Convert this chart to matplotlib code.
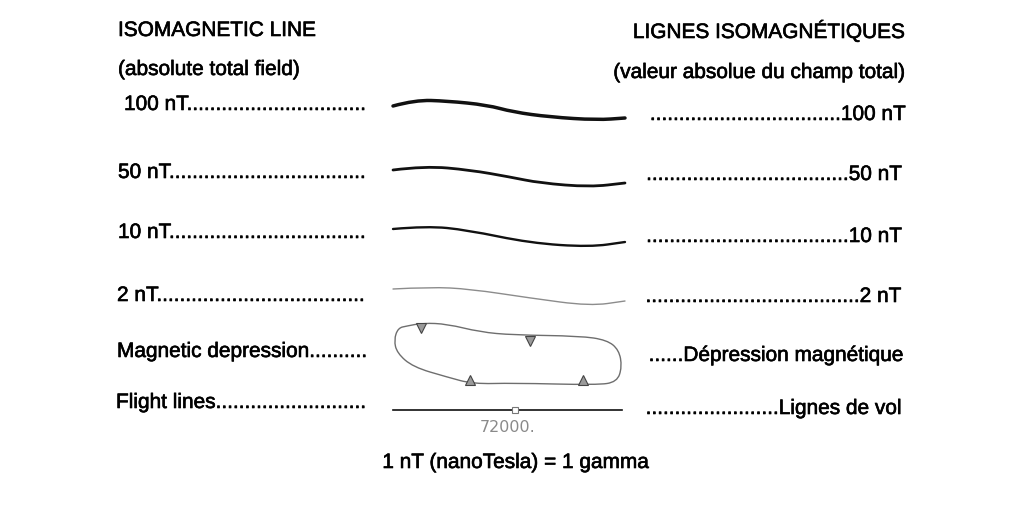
import matplotlib
matplotlib.use("Agg")
import matplotlib.pyplot as plt
import matplotlib.patheffects as pe
from matplotlib.path import Path
from matplotlib.patches import PathPatch

plt.rcParams['font.family'] = ['Liberation Sans', 'DejaVu Sans']

# headers
left_header = ["ISOMAGNETIC LINE", "(absolute total field)"]
right_header = ["LIGNES ISOMAGNÉTIQUES", "(valeur absolue du champ total)"]

# legend rows
left_labels = ["100 nT", "50 nT", "10 nT", "2 nT", "Magnetic depression", "Flight lines"]
right_labels = ["100 nT", "50 nT", "10 nT", "2 nT", "Dépression magnétique", "Lignes de vol"]
footer = "1 nT (nanoTesla) = 1 gamma"
flight_label = "72000."

# isomagnetic line samples (pixel coords)
iso100_x = [393, 415, 447, 487, 513, 550, 597, 625]
iso100_y = [106, 100, 101, 105, 112, 117, 120, 118]
iso50_x = [393, 425, 470, 510, 540, 590, 625]
iso50_y = [170, 166, 170, 177, 183, 187, 183]
iso10_x = [393, 427, 467, 530, 590, 625]
iso10_y = [229, 226, 230, 243, 247, 242]
iso2_x = [393, 430, 470, 530, 590, 625]
iso2_y = [289, 287, 289, 298, 306, 301]

# magnetic depression outline + tick triangles
dep_x = [398, 407, 423, 447, 480, 513, 580, 607, 619, 622, 617, 597, 513, 473, 447, 413, 397, 394]
dep_y = [328, 326, 323, 324, 332, 335, 336, 340, 350, 367, 382, 385, 383, 384, 377, 367, 353, 340]
tri_down_x = [421, 530]
tri_down_y = [328, 341]
tri_up_x = [470, 583]
tri_up_y = [380, 380]

# flight line
flight_x = [393, 622]
flight_y = [410, 410]
fid_x = [515]
fid_y = [410]


def smooth(xs, ys, closed=False):
    pts = list(zip(xs, ys))
    n = len(pts)
    mid = lambda a, b: ((a[0] + b[0]) / 2, (a[1] + b[1]) / 2)
    if closed:
        verts = [mid(pts[-1], pts[0])]
        codes = [Path.MOVETO]
        for i in range(n):
            verts += [pts[i], mid(pts[i], pts[(i + 1) % n])]
            codes += [Path.CURVE3, Path.CURVE3]
    else:
        verts = [pts[0]]
        codes = [Path.MOVETO]
        for i in range(1, n - 1):
            verts += [pts[i], mid(pts[i], pts[i + 1])]
            codes += [Path.CURVE3, Path.CURVE3]
        verts.append(pts[-1])
        codes.append(Path.LINETO)
    return Path(verts, codes)


fig = plt.figure(figsize=(10.13, 5.15), dpi=100)
ax = fig.add_axes([0, 0, 1, 1])
ax.set_xlim(0, 1013)
ax.set_ylim(515, 0)
ax.axis('off')

fs = 15.0
bold_fx = [pe.withStroke(linewidth=0.45, foreground='black')]
renderer = fig.canvas.get_renderer()


def txt(x, y, s, **kw):
    return ax.text(x, y, s, fontsize=fs, va='baseline', path_effects=bold_fx, **kw)


# pad labels with dots up to the symbol column
def left_dots(x, y, label, end=368):
    t = txt(x, y, label, ha='left')
    s = label
    while True:
        t.set_text(s + ".")
        if t.get_window_extent(renderer).x1 > end:
            t.set_text(s)
            break
        s += "."
    return t


def right_dots(x, y, label, start=647):
    t = txt(x, y, label, ha='right')
    s = label
    while True:
        t.set_text("." + s)
        if t.get_window_extent(renderer).x0 < start:
            t.set_text(s)
            break
        s = "." + s
    return t


txt(118, 36, left_header[0])
txt(118, 75, left_header[1])
txt(906, 38, right_header[0], ha='right')
txt(906, 78, right_header[1], ha='right')

left_x = [124, 118, 118, 117, 117, 116]
left_y = [110, 178, 238, 301, 357, 408]
right_x = [905, 901, 901, 900, 904, 901]
right_y = [120, 180, 242, 302, 361, 414]
right_start = [648, 646, 644, 644, 645, 644]
for lab, x, y in zip(left_labels, left_x, left_y):
    left_dots(x, y, lab)
for lab, x, y, s in zip(right_labels, right_x, right_y, right_start):
    right_dots(x, y, lab, s)

# isomagnetic lines
for xs, ys, lw, col in [(iso100_x, iso100_y, 2.5, '#111111'),
                        (iso50_x, iso50_y, 2.0, '#111111'),
                        (iso10_x, iso10_y, 1.7, '#111111'),
                        (iso2_x, iso2_y, 1.0, '#8c8c8c')]:
    ax.add_patch(PathPatch(smooth(xs, ys), fill=False, lw=lw, ec=col, capstyle='round'))

# depression
ax.add_patch(PathPatch(smooth(dep_x, dep_y, closed=True), fill=False, lw=1.0, ec='#6e6e6e'))
ax.plot(tri_down_x, tri_down_y, 'v', ms=7.5, mfc='#9a9a9a', mec='#444444', mew=0.8)
ax.plot(tri_up_x, tri_up_y, '^', ms=7.5, mfc='#9a9a9a', mec='#444444', mew=0.8)

# flight line
ax.plot(flight_x, flight_y, color='#111111', lw=1.2)
ax.plot(fid_x, fid_y, 's', ms=4, mfc='white', mec='#777777', mew=0.8)
ax.text(508, 432, flight_label, fontsize=11.5, color='#8a8a8a', family='DejaVu Sans',
        ha='center', va='baseline')

txt(516, 468, footer, ha='center')

fig.savefig("out.png", dpi=100)
